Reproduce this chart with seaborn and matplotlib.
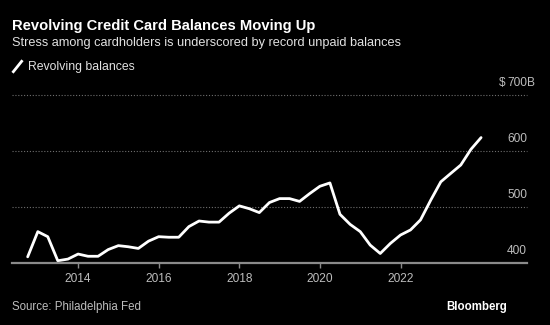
import matplotlib
matplotlib.use("Agg")
import matplotlib.pyplot as plt
from matplotlib.path import Path
from matplotlib.lines import Line2D
from matplotlib import transforms
import seaborn as sns
import pandas as pd

# ---- data (quarterly revolving balances, $B) ----
start_quarter = "2012-10-01"
balances = [411, 456, 447, 404, 407, 416, 412, 412, 424, 431, 429, 426,
            439, 447, 446, 446, 465, 475, 473, 473, 489, 502, 497, 490,
            508, 515, 515, 510, 524, 537, 543, 487, 469, 456, 432, 417,
            435, 450, 459, 477, 512, 545, 560, 575, 603, 624]
tick_years = [2014, 2016, 2018, 2020, 2022]
y_ticks = [400, 500, 600, 700]
series_name = "Revolving balances"
title = "Revolving Credit Card Balances Moving Up"
subtitle = "Stress among cardholders is underscored by record unpaid balances"
source = "Source: Philadelphia Fed"

dates = pd.date_range(start_quarter, periods=len(balances), freq="QS")
df = pd.DataFrame({"date": dates, "value": balances})

sns.set_theme(style="dark")
plt.rcParams["font.family"] = ["Liberation Sans", "DejaVu Sans"]

BG = "black"
fig = plt.figure(figsize=(5.5, 3.25), dpi=100, facecolor=BG)
W, H = 550, 325
y_top = 702
px_per_unit = 0.56
top_px = 263 - (y_top - 400) * px_per_unit
ax = fig.add_axes([12 / W, 1 - 263 / H, (527 - 12) / W, (263 - top_px) / H])
ax.set_facecolor(BG)

sns.lineplot(data=df, x="date", y="value", ax=ax, color="white",
             linewidth=2.0, legend=False)

ax.set_xlim(pd.Timestamp("2012-05-12"), pd.Timestamp("2025-02-20"))
ax.set_ylim(400, y_top)

# spines
for s in ["top", "right", "left"]:
    ax.spines[s].set_visible(False)
ax.spines["bottom"].set_color("#8a8a8a")
ax.spines["bottom"].set_linewidth(1.6)

# x ticks
ax.set_xticks([pd.Timestamp(f"{y}-01-01") for y in tick_years])
ax.set_xticklabels([str(y) for y in tick_years])
ax.tick_params(axis="x", which="major", bottom=True, length=3.5, width=1,
               color="#8a8a8a", labelcolor="#bdbdbd", labelsize=8.6, pad=4)
ax.set_xlabel("")
ax.set_ylabel("")

# y grid + labels
ax.set_yticks([])
ax.grid(False)
for v in y_ticks[1:]:
    ax.axhline(v, color="#6e6e6e", linewidth=0.8, linestyle=(0, (1, 1.6)),
               clip_on=False, zorder=0)
lab_tr = transforms.offset_copy(ax.get_yaxis_transform(), fig=fig, x=0, y=11.5, units="dots")
for v in y_ticks:
    t = ax.text(1.0, v, str(v), transform=lab_tr, ha="right", va="center",
                color="#bdbdbd", fontsize=8.6)
    if v == y_ticks[-1]:
        ax.annotate("$", xy=(0, 0.5), xycoords=t, xytext=(-1.2, 0),
                    textcoords="offset points", ha="right", va="center",
                    color="#bdbdbd", fontsize=8.6)
        ax.annotate("B", xy=(1, 0.5), xycoords=t, ha="left", va="center",
                    color="#bdbdbd", fontsize=8.6)

# texts
fig.text(12 / W, 1 - 26 / H, title, color="white", fontsize=10.6,
         fontweight="bold", ha="left", va="center")
fig.text(12 / W, 1 - 43 / H, subtitle, color="#e2e2e2", fontsize=9.2,
         ha="left", va="center")
fig.text(12 / W, 1 - 307 / H, source, color="#bdbdbd", fontsize=8.3,
         ha="left", va="center")
fig.text(507 / W, 1 - 307 / H, "Bloomberg", color="white", fontsize=8.3,
         fontweight="bold", ha="right", va="center")

# legend with slash marker
slash = Path([(-0.8, -1), (0.8, 1)], [Path.MOVETO, Path.LINETO])
handle = Line2D([], [], color="white", linestyle="none", marker=slash,
                markersize=9, markeredgewidth=2.0)
leg = fig.legend([handle], [series_name], loc="center left",
                 bbox_to_anchor=(6 / W, 1 - 67 / H), frameon=False,
                 handlelength=1.0, handletextpad=0.4, borderaxespad=0,
                 fontsize=8.8, labelcolor="#e2e2e2")

fig.savefig("out.png", dpi=100, facecolor=BG)
